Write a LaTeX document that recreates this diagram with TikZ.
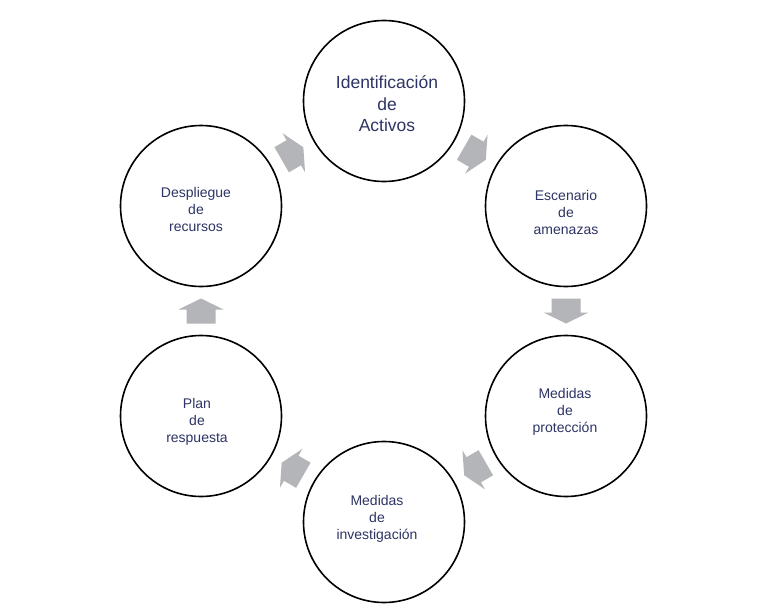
\documentclass[tikz,border=0pt]{standalone}
\usepackage{fontspec}
\setmainfont{Liberation Sans}
\usetikzlibrary{calc}
\definecolor{txtnavy}{RGB}{45,52,100}
\definecolor{arrowgray}{RGB}{180,181,185}
\tikzset{
  stage/.style={circle, draw=black, line width=1.6pt, minimum size=161pt, inner sep=0pt},
  stagetext/.style={align=center, text=txtnavy, inner sep=0pt, font=\fontsize{14}{17}\selectfont},
  bigtext/.style={align=center, text=txtnavy, inner sep=0pt, font=\fontsize{17.5}{21.5}\selectfont},
  blockarrow/.pic={\fill[arrowgray] (-12.5,-14.5) -- (1.5,-14.5) -- (1.5,-22.5) -- (12.5,0) -- (1.5,22.5) -- (1.5,14.5) -- (-12.5,14.5) -- cycle;}
}
\begin{document}
\begin{tikzpicture}[x=1pt, y=-1pt]
\useasboundingbox[fill=white] (0,0) rectangle (768,610);
% circles
\node[stage] (c1) at (384,101) {};
\node[stage] (c2) at (566,206) {};
\node[stage] (c3) at (566,416) {};
\node[stage] (c4) at (384,522) {};
\node[stage] (c5) at (201,416) {};
\node[stage] (c6) at (201,206) {};
% texts
\node[bigtext]   (t1) at (387,104) {Identificación\\de\\Activos};
\node[stagetext] (t2) at (566,212) {Escenario\\de\\amenazas};
\node[stagetext] (t3) at (565,412) {Medidas\\de\\protección};
\node[stagetext] (t4) at (377,519) {Medidas\\de\\investigación};
\node[stagetext] (t5) at (197,422) {Plan\\de\\respuesta};
\node[stagetext] (t6) at (196,209) {Despliegue\\de\\recursos};
% block arrows between stages
\pic[rotate=-30]  at ($(c1)!0.5!(c2)$) {blockarrow};
\pic[rotate=-90]  at ($(c2)!0.5!(c3)$) {blockarrow};
\pic[rotate=-150] at ($(c3)!0.5!(c4)$) {blockarrow};
\pic[rotate=150]  at ($(c4)!0.5!(c5)$) {blockarrow};
\pic[rotate=90]   at ($(c5)!0.5!(c6)$) {blockarrow};
\pic[rotate=30]   at ($(c6)!0.5!(c1)$) {blockarrow};
\end{tikzpicture}
\end{document}
